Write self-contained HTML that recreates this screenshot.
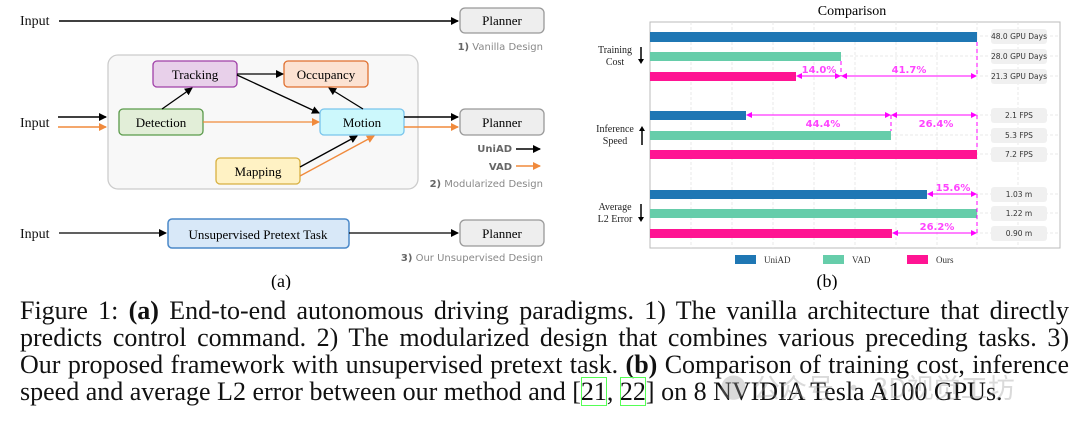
<!DOCTYPE html>
<html><head><meta charset="utf-8"><style>
body{margin:0;background:#fff;width:1080px;height:427px;overflow:hidden;position:relative}
.cap{position:absolute;left:20px;width:1049px;font-family:"Liberation Serif",serif;font-size:26px;color:#111;text-align:justify;text-align-last:justify;white-space:nowrap;line-height:27px}
.cap span.b{font-weight:bold}
.ref{outline:1.5px solid #5f5;outline-offset:-1px}
</style></head><body>
<svg width="1080" height="290" style="position:absolute;left:0;top:0" font-family="Liberation Serif, serif">
<defs>
<marker id="ak" markerWidth="8" markerHeight="8" refX="7" refY="4" orient="auto" markerUnits="userSpaceOnUse"><path d="M0,0 L8,4 L0,8 z" fill="#000"/></marker>
<marker id="ao" markerWidth="8" markerHeight="8" refX="7" refY="4" orient="auto" markerUnits="userSpaceOnUse"><path d="M0,0 L8,4 L0,8 z" fill="#f08a3c"/></marker>
<marker id="am" markerWidth="6" markerHeight="6" refX="5" refY="3" orient="auto-start-reverse" markerUnits="userSpaceOnUse"><path d="M0,0 L6,3 L0,6 z" fill="#f0f"/></marker>
</defs>
<g font-size="14" fill="#111">
<text x="20" y="25">Input</text>
<text x="20" y="127">Input</text>
<text x="20" y="238">Input</text>
</g>
<line x1="59" y1="21" x2="458" y2="21" stroke="#000" stroke-width="1.5" marker-end="url(#ak)"/>
<rect x="460" y="8" width="84" height="25" rx="5" fill="#eee" stroke="#999" stroke-width="1.3"/>
<text x="502" y="25" font-size="13" text-anchor="middle">Planner</text>
<text x="543" y="50" font-size="10" text-anchor="end" fill="#888" font-family="DejaVu Sans, sans-serif"><tspan font-weight="bold" fill="#666">1)</tspan> Vanilla Design</text>

<rect x="108" y="55" width="310" height="134" rx="10" fill="#f8f8f8" stroke="#ccc" stroke-width="1.3"/>
<rect x="153" y="61" width="84" height="26" rx="4" fill="#e8d0ea" stroke="#a040a8" stroke-width="1.3"/>
<text x="195" y="79" font-size="13" text-anchor="middle">Tracking</text>
<rect x="284" y="61" width="84" height="26" rx="4" fill="#fce2d2" stroke="#e07030" stroke-width="1.3"/>
<text x="326" y="79" font-size="13" text-anchor="middle">Occupancy</text>
<rect x="119" y="109" width="84" height="26" rx="4" fill="#e2eed8" stroke="#5a9a4a" stroke-width="1.3"/>
<text x="161" y="127" font-size="13" text-anchor="middle">Detection</text>
<rect x="320" y="109" width="84" height="26" rx="4" fill="#ccf8fc" stroke="#78c4ec" stroke-width="1.3"/>
<text x="362" y="127" font-size="13" text-anchor="middle">Motion</text>
<rect x="216" y="158" width="84" height="26" rx="4" fill="#fff2c4" stroke="#d8b040" stroke-width="1.3"/>
<text x="258" y="176" font-size="13" text-anchor="middle">Mapping</text>

<line x1="58" y1="117" x2="106" y2="117" stroke="#000" stroke-width="1.5" marker-end="url(#ak)"/>
<line x1="58" y1="127" x2="106" y2="127" stroke="#f08a3c" stroke-width="1.5" marker-end="url(#ao)"/>
<line x1="162" y1="109" x2="192" y2="88" stroke="#000" stroke-width="1.3" marker-end="url(#ak)"/>
<line x1="237" y1="74" x2="283" y2="74" stroke="#000" stroke-width="1.3" marker-end="url(#ak)"/>
<line x1="237" y1="75" x2="319" y2="113" stroke="#000" stroke-width="1.3" marker-end="url(#ak)"/>
<line x1="363" y1="109" x2="329" y2="88" stroke="#000" stroke-width="1.3" marker-end="url(#ak)"/>
<line x1="203" y1="122" x2="319" y2="122" stroke="#f08a3c" stroke-width="1.3" marker-end="url(#ao)"/>
<line x1="300" y1="167" x2="357" y2="136" stroke="#000" stroke-width="1.3" marker-end="url(#ak)"/>
<line x1="300" y1="176" x2="374" y2="136" stroke="#f08a3c" stroke-width="1.3" marker-end="url(#ao)"/>
<line x1="404" y1="117" x2="458" y2="117" stroke="#000" stroke-width="1.5" marker-end="url(#ak)"/>
<line x1="404" y1="127" x2="458" y2="127" stroke="#f08a3c" stroke-width="1.5" marker-end="url(#ao)"/>
<rect x="460" y="109" width="84" height="26" rx="5" fill="#eee" stroke="#999" stroke-width="1.3"/>
<text x="502" y="127" font-size="13" text-anchor="middle">Planner</text>
<g font-family="DejaVu Sans, sans-serif" font-size="10" font-weight="bold" fill="#666">
<text x="512" y="152" text-anchor="end">UniAD</text>
<text x="512" y="170" text-anchor="end">VAD</text>
</g>
<line x1="516" y1="149" x2="540" y2="149" stroke="#000" stroke-width="1.5" marker-end="url(#ak)"/>
<line x1="516" y1="166" x2="540" y2="166" stroke="#f08a3c" stroke-width="1.5" marker-end="url(#ao)"/>
<text x="543" y="187" font-size="10" text-anchor="end" fill="#888" font-family="DejaVu Sans, sans-serif"><tspan font-weight="bold" fill="#666">2)</tspan> Modularized Design</text>

<line x1="59" y1="233" x2="166" y2="233" stroke="#000" stroke-width="1.3" marker-end="url(#ak)"/>
<rect x="168" y="219" width="181" height="29" rx="4" fill="#d8e8f8" stroke="#4a88c8" stroke-width="1.5"/>
<text x="258" y="239" font-size="13" text-anchor="middle">Unsupervised Pretext Task</text>
<line x1="349" y1="233" x2="458" y2="233" stroke="#000" stroke-width="1.3" marker-end="url(#ak)"/>
<rect x="460" y="220" width="84" height="26" rx="5" fill="#eee" stroke="#999" stroke-width="1.3"/>
<text x="502" y="238" font-size="13" text-anchor="middle">Planner</text>
<text x="543" y="261" font-size="10" text-anchor="end" fill="#888" font-family="DejaVu Sans, sans-serif"><tspan font-weight="bold" fill="#666">3)</tspan> Our Unsupervised Design</text>
<text x="281" y="287" font-size="18" text-anchor="middle">(a)</text>

<text x="852" y="15" font-size="14" text-anchor="middle">Comparison</text>
<rect x="650" y="22" width="410" height="226" fill="#fff" stroke="#bbb" stroke-width="1"/>
<g stroke="#e4e4e4" stroke-width="0.8" stroke-dasharray="3,2">
<line x1="691" y1="22" x2="691" y2="248"/><line x1="732" y1="22" x2="732" y2="248"/><line x1="773" y1="22" x2="773" y2="248"/><line x1="814" y1="22" x2="814" y2="248"/><line x1="855" y1="22" x2="855" y2="248"/><line x1="896" y1="22" x2="896" y2="248"/><line x1="937" y1="22" x2="937" y2="248"/><line x1="977" y1="22" x2="977" y2="248"/><line x1="1018" y1="22" x2="1018" y2="248"/>
<line x1="650" y1="36" x2="1060" y2="36"/><line x1="650" y1="56" x2="1060" y2="56"/><line x1="650" y1="76" x2="1060" y2="76"/><line x1="650" y1="115" x2="1060" y2="115"/><line x1="650" y1="135" x2="1060" y2="135"/><line x1="650" y1="154" x2="1060" y2="154"/><line x1="650" y1="194" x2="1060" y2="194"/><line x1="650" y1="213" x2="1060" y2="213"/><line x1="650" y1="233" x2="1060" y2="233"/>
</g>
<g>
<rect x="650" y="32" width="327" height="10" fill="#1f77b4"/>
<rect x="650" y="52" width="191" height="9" fill="#66cdaa"/>
<rect x="650" y="72" width="146" height="9" fill="#ff1493"/>
<rect x="650" y="111" width="96" height="9" fill="#1f77b4"/>
<rect x="650" y="131" width="241" height="9" fill="#66cdaa"/>
<rect x="650" y="150" width="327" height="9" fill="#ff1493"/>
<rect x="650" y="190" width="277" height="9" fill="#1f77b4"/>
<rect x="650" y="209" width="327" height="9" fill="#66cdaa"/>
<rect x="650" y="229" width="242" height="9" fill="#ff1493"/>
</g>
<g fill="#f0f0f0">
<rect x="991" y="29" width="56" height="15" rx="3"/><rect x="991" y="49" width="56" height="15" rx="3"/><rect x="991" y="69" width="56" height="15" rx="3"/>
<rect x="991" y="108" width="56" height="15" rx="3"/><rect x="991" y="128" width="56" height="15" rx="3"/><rect x="991" y="147" width="56" height="15" rx="3"/>
<rect x="991" y="187" width="56" height="15" rx="3"/><rect x="991" y="206" width="56" height="15" rx="3"/><rect x="991" y="226" width="56" height="15" rx="3"/>
</g>
<g font-family="DejaVu Sans, sans-serif" font-size="7.5" fill="#333" text-anchor="middle">
<text x="1019" y="39">48.0 GPU Days</text><text x="1019" y="59">28.0 GPU Days</text><text x="1019" y="79">21.3 GPU Days</text>
<text x="1019" y="118">2.1 FPS</text><text x="1019" y="138">5.3 FPS</text><text x="1019" y="157">7.2 FPS</text>
<text x="1019" y="197">1.03 m</text><text x="1019" y="216">1.22 m</text><text x="1019" y="236">0.90 m</text>
</g>
<g font-size="10" fill="#222" text-anchor="middle">
<text x="615" y="53">Training</text><text x="615" y="65">Cost</text>
<text x="615" y="132">Inference</text><text x="615" y="144">Speed</text>
<text x="615" y="210">Average</text><text x="615" y="222">L2 Error</text>
</g>
<g stroke="#000" stroke-width="1.5">
<line x1="641" y1="47" x2="641" y2="60"/><line x1="642" y1="130" x2="642" y2="145"/><line x1="641" y1="204" x2="641" y2="218"/>
</g>
<g fill="#000">
<path d="M638,59 L644,59 L641,64z"/><path d="M639,131 L645,131 L642,126z"/><path d="M638,217 L644,217 L641,222z"/>
</g>
<g stroke="#f0f" stroke-width="1" stroke-dasharray="4,3" fill="none">
<line x1="977" y1="42" x2="977" y2="76"/><line x1="841" y1="61" x2="841" y2="76"/>
<line x1="977" y1="115" x2="977" y2="150"/><line x1="891" y1="115" x2="891" y2="131"/>
<line x1="977" y1="194" x2="977" y2="233"/>
</g>
<g stroke="#f0f" stroke-width="1">
<line x1="797" y1="76" x2="840" y2="76" marker-start="url(#am)" marker-end="url(#am)"/>
<line x1="842" y1="76" x2="976" y2="76" marker-start="url(#am)" marker-end="url(#am)"/>
<line x1="747" y1="115" x2="890" y2="115" marker-start="url(#am)" marker-end="url(#am)"/>
<line x1="892" y1="115" x2="976" y2="115" marker-start="url(#am)" marker-end="url(#am)"/>
<line x1="928" y1="194" x2="976" y2="194" marker-start="url(#am)" marker-end="url(#am)"/>
<line x1="893" y1="233" x2="976" y2="233" marker-start="url(#am)" marker-end="url(#am)"/>
</g>
<g font-family="DejaVu Sans, sans-serif" font-size="10" font-weight="bold" fill="#f4f" text-anchor="middle">
<text x="819" y="73">14.0%</text><text x="909" y="73">41.7%</text>
<text x="823" y="127">44.4%</text><text x="936" y="127">26.4%</text>
<text x="953" y="191">15.6%</text><text x="937" y="230">26.2%</text>
</g>
<rect x="735" y="255" width="21" height="9" fill="#1f77b4"/><text x="764" y="263" font-size="9" fill="#333">UniAD</text>
<rect x="823" y="255" width="21" height="9" fill="#66cdaa"/><text x="852" y="263" font-size="9" fill="#333">VAD</text>
<rect x="907" y="255" width="21" height="9" fill="#ff1493"/><text x="936" y="263" font-size="9" fill="#333">Ours</text>
<text x="827" y="287" font-size="18" text-anchor="middle">(b)</text>
</svg>
<div class="cap" style="top:297px">Figure 1: <span class="b">(a)</span> End-to-end autonomous driving paradigms. 1) The vanilla architecture that directly</div>
<div class="cap" style="top:324px">predicts control command. 2) The modularized design that combines various preceding tasks. 3)</div>
<div class="cap" style="top:351px">Our proposed framework with unsupervised pretext task. <span class="b">(b)</span> Comparison of training cost, inference</div>
<div class="cap" style="top:378px;text-align:left;text-align-last:left">speed and average L2 error between our method and [<span class="ref">21</span>, <span class="ref">22</span>] on 8 NVIDIA Tesla A100 GPUs.</div>
<div style="position:absolute;left:720px;top:367px;font-family:'Noto Sans CJK SC',sans-serif;font-size:27px;color:rgba(150,150,150,0.35);white-space:nowrap">● 公众号 · 3D视觉工坊</div>
</body></html>
